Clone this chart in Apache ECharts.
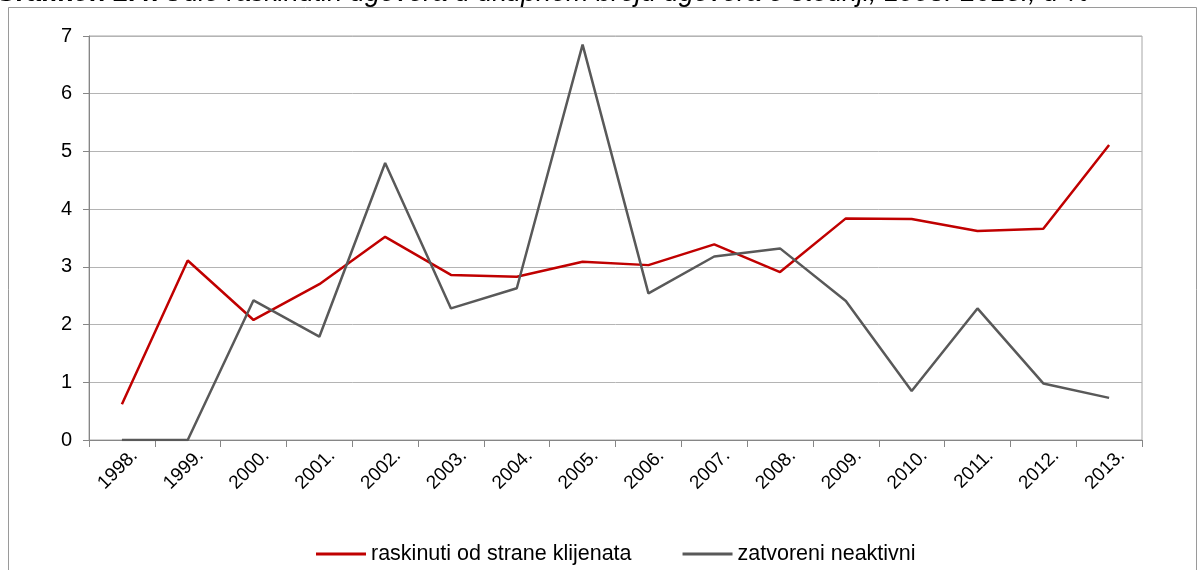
<!DOCTYPE html>
<html>
<head>
<meta charset="utf-8">
<script src="https://cdn.jsdelivr.net/npm/echarts@6/dist/echarts.min.js"></script>
<style>
  html, body { margin: 0; padding: 0; background: #fff; }
  #chart { width: 1200px; height: 570px; }
</style>
</head>
<body>
<div id="chart"></div>
<script>
const years = ['1998.', '1999.', '2000.', '2001.', '2002.', '2003.', '2004.', '2005.',
  '2006.', '2007.', '2008.', '2009.', '2010.', '2011.', '2012.', '2013.']
const raskinuti = [0.62, 3.11, 2.08, 2.70, 3.52, 2.86, 2.83, 3.09, 3.03, 3.39, 2.91, 3.84, 3.83, 3.62, 3.66, 5.11]
const zatvoreni = [0, 0, 2.42, 1.79, 4.80, 2.28, 2.63, 6.85, 2.54, 3.18, 3.32, 2.41, 0.85, 2.28, 0.98, 0.73]
const seriesNames = ['raskinuti od strane klijenata', 'zatvoreni neaktivni']

const font = '"Liberation Sans", Arial, sans-serif'

const chart = echarts.init(document.getElementById('chart'))

const option = {
  backgroundColor: '#fff',
  animation: false,
  graphic: [
    {
      type: 'rect',
      shape: { x: 8.5, y: 7.5, width: 1188, height: 600 },
      style: { fill: 'none', stroke: '#9a9a9a', lineWidth: 1 },
      silent: true
    },
    {
      // title is cut off at the top edge in the original
      type: 'text',
      style: {
        x: 1090,
        y: 7,
        align: 'right',
        verticalAlign: 'bottom',
        text: '{b|Grafikon 2.4:} {n|Udio raskinutih ugovora u ukupnom broju ugovora o štednji, 1998.-2013., u %}',
        rich: {
          b: { fontFamily: font, fontSize: 27, fontWeight: 'bold', fontStyle: 'italic', fill: '#000' },
          n: { fontFamily: font, fontSize: 27, fontStyle: 'italic', fill: '#000' }
        }
      },
      silent: true
    }
  ],
  legend: {
    left: 316,
    top: 543,
    padding: 0,
    itemWidth: 50,
    itemHeight: 3,
    itemGap: 51,
    icon: 'rect',
    textStyle: { fontFamily: font, fontSize: 21.5, color: '#000' },
    data: seriesNames
  },
  grid: {
    left: 89,
    right: 58,
    top: 36,
    bottom: 130,
    show: true,
    borderColor: '#a6a6a6',
    borderWidth: 1
  },
  xAxis: {
    type: 'category',
    data: years,
    boundaryGap: true,
    axisLine: { lineStyle: { color: '#868686', width: 1 } },
    axisTick: { show: true, length: 7, lineStyle: { color: '#868686' } },
    axisLabel: {
      rotate: 45,
      margin: 0,
      interval: 0,
      verticalAlign: 'top',
      lineHeight: 36,
      fontFamily: font,
      fontSize: 19,
      color: '#000'
    }
  },
  yAxis: {
    type: 'value',
    min: 0,
    max: 7,
    interval: 1,
    axisLine: { show: true, lineStyle: { color: '#868686', width: 1 } },
    axisTick: { show: true, length: 6, lineStyle: { color: '#868686' } },
    splitLine: { lineStyle: { color: '#b4b4b4', width: 1 } },
    axisLabel: {
      margin: 17,
      fontFamily: font,
      fontSize: 20,
      color: '#000'
    }
  },
  series: [
    {
      name: seriesNames[0],
      type: 'line',
      data: raskinuti,
      symbol: 'none',
      lineStyle: { color: '#c00000', width: 2.5 },
      itemStyle: { color: '#c00000' }
    },
    {
      name: seriesNames[1],
      type: 'line',
      data: zatvoreni,
      symbol: 'none',
      lineStyle: { color: '#595959', width: 2.5 },
      itemStyle: { color: '#595959' }
    }
  ]
}

chart.setOption(option)
</script>
</body>
</html>
